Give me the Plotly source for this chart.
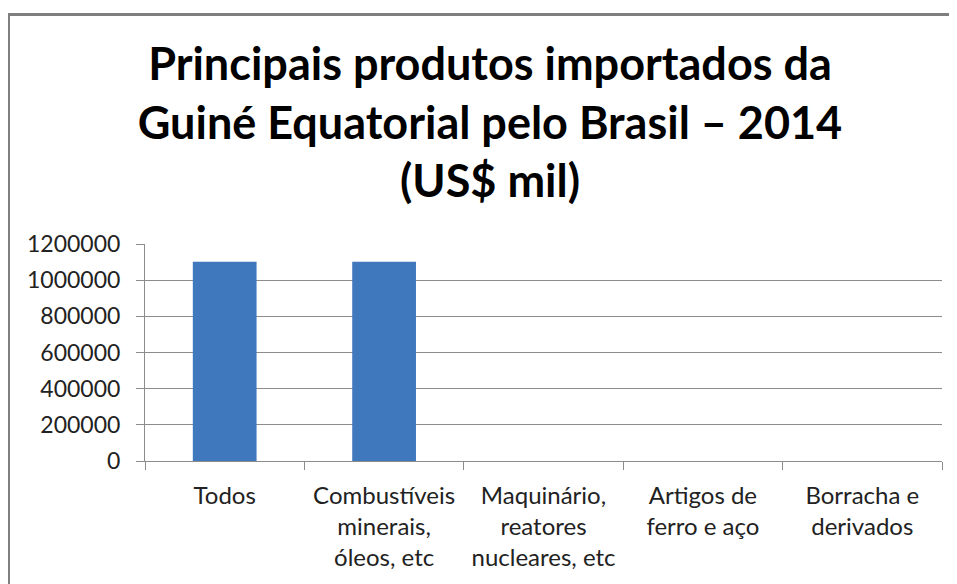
import plotly.graph_objects as go

categories = [
    "Todos",
    "Combustíveis<br>minerais,<br>óleos, etc",
    "Maquinário,<br>reatores<br>nucleares, etc",
    "Artigos de<br>ferro e aço",
    "Borracha e<br>derivados",
]
values = [1102000, 1101500, 0, 0, 0]
y_ticks = [0, 200000, 400000, 600000, 800000, 1000000, 1200000]

OFF = 8  # page body margin
W, H = 957, 584
# desired plot area in page pixels: x 145..942, y 244..461
L, T = 145 - OFF, 244 - OFF
R = W - (942 - OFF)
B = H - (461 - OFF)
pw, ph = W - L - R, H - T - B

def px(x):
    return (x - OFF - L) / pw

def py(y):
    return (H - B - (y - OFF)) / ph

fig = go.Figure(go.Bar(x=categories, y=values, marker=dict(color="#3f78bd", line=dict(width=0))))

grid = "#8c8c8c"
fig.update_layout(
    width=W, height=H,
    margin=dict(l=L, r=R, t=T, b=B),
    paper_bgcolor="white", plot_bgcolor="white",
    bargap=0.6,
    showlegend=False,
    font=dict(family="Lato", color="#222222", size=22),
    title=dict(
        text="Principais produtos importados da<br>Guiné Equatorial pelo Brasil – 2014<br>(US$ mil)",
        xref="container", x=(490 - OFF) / W, xanchor="center",
        y=1 - 72 / H, yanchor="top",
        font=dict(family="Lato", size=45, color="black", weight="bold"),
    ),
    xaxis=dict(
        type="category", tickson="boundaries", ticks="outside", ticklen=8,
        tickcolor=grid, showline=True, linecolor=grid, linewidth=1,
        showgrid=False, ticklabelstandoff=13, tickfont=dict(size=24),
    ),
    yaxis=dict(
        range=[0, 1200000], tickvals=y_ticks, ticktext=[str(v) for v in y_ticks],
        ticks="outside", ticklen=8, tickcolor=grid,
        showline=True, linecolor=grid, linewidth=1,
        showgrid=True, gridcolor=grid, gridwidth=1, zeroline=False,
        ticklabelstandoff=11, tickfont=dict(size=23),
    ),
    shapes=[
        dict(type="line", xref="paper", yref="paper", x0=px(8.5), x1=px(8.5), y0=py(14), y1=py(600),
             line=dict(color="#7f7f7f", width=3)),
        dict(type="line", xref="paper", yref="paper", x0=px(7), x1=px(965), y0=py(14.5), y1=py(14.5),
             line=dict(color="#7f7f7f", width=3)),
    ],
)

fig.write_html("out.html")
